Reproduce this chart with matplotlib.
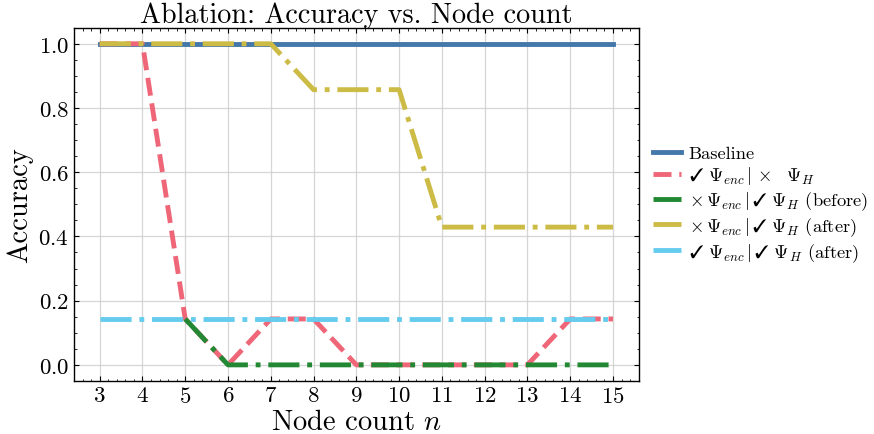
import numpy as np
import matplotlib
matplotlib.use("Agg")
import matplotlib.pyplot as plt
from matplotlib.ticker import AutoMinorLocator

plt.rcParams['font.family'] = ['cmr10', 'DejaVu Sans']
plt.rcParams['mathtext.fontset'] = 'cm'
plt.rcParams['axes.formatter.use_mathtext'] = True

nodes = [3, 4, 5, 6, 7, 8, 9, 10, 11, 12, 13, 14, 15]
baseline = [1.0] * 13
enc_only = [1.0, 1.0, 0.143, 0.0, 0.143, 0.143, 0.0, 0.0, 0.0, 0.0, 0.0, 0.143, 0.143]
h_before = [np.nan, np.nan, 0.143, 0.0, 0.0, 0.0, 0.0, 0.0, 0.0, 0.0, 0.0, 0.0, 0.0]
h_after = [1.0, 1.0, 1.0, 1.0, 1.0, 0.857, 0.857, 0.857, 0.429, 0.429, 0.429, 0.429, 0.429]
both_after = [0.143] * 13

labels = [
    "Baseline",
    r"$\checkmark\ \Psi_{enc}\,|\,\times\ \ \Psi_H$",
    r"$\times\,\Psi_{enc}\,|\,\checkmark\ \Psi_H$ (before)",
    r"$\times\,\Psi_{enc}\,|\,\checkmark\ \Psi_H$ (after)",
    r"$\checkmark\ \Psi_{enc}\,|\,\checkmark\ \Psi_H$ (after)",
]
colors = ["#4477AA", "#EE6677", "#228833", "#CCBB44", "#66CCEE"]
styles = ["-", "--", "-.", "-.", "-."]
series = [baseline, enc_only, h_before, h_after, both_after]

fig = plt.figure(figsize=(8.74, 4.35), dpi=100)
ax = fig.add_axes([0.0847, 0.122, 0.646, 0.812])

for y, c, ls, lab in zip(series, colors, styles, labels):
    ax.plot(nodes, y, color=c, linestyle=ls, linewidth=3.5, label=lab)

ax.set_xticks(nodes)
ax.set_yticks([0.0, 0.2, 0.4, 0.6, 0.8, 1.0])
ax.xaxis.set_minor_locator(AutoMinorLocator(5))
ax.yaxis.set_minor_locator(AutoMinorLocator(4))
ax.tick_params(which='both', direction='in', top=True, right=True)
ax.tick_params(which='major', length=3.5, width=0.8, labelsize=16.5)
ax.tick_params(which='minor', length=1.8, width=0.6)
ax.grid(True, which='major', color='#cccccc', alpha=0.8, linewidth=0.9)
for s in ax.spines.values():
    s.set_linewidth(1.0)

ax.set_title("Ablation: Accuracy vs. Node count", fontsize=20.3, pad=3)
ax.set_xlabel("Node count $n$", fontsize=20.5, labelpad=2)
ax.set_ylabel("Accuracy", fontsize=20.5, labelpad=4)

ax.legend(loc='center left', bbox_to_anchor=(1.0, 0.5), frameon=False,
          fontsize=13.3, handlelength=1.5, handletextpad=0.4, labelspacing=0.17,
          borderaxespad=0.4)

fig.savefig("out.png", dpi=100)
